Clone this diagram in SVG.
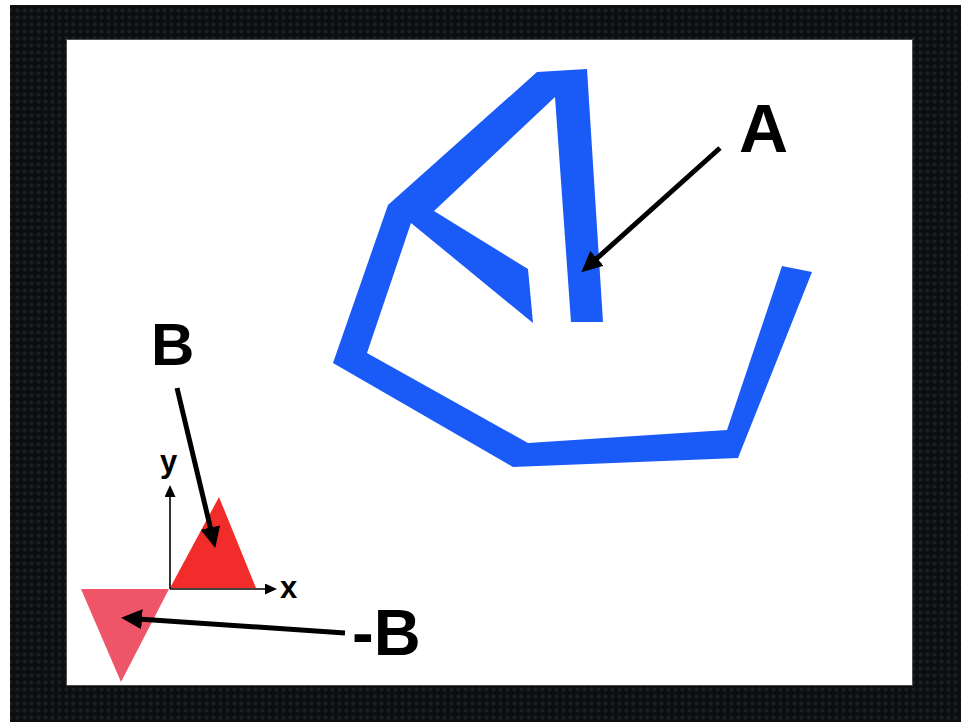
<svg xmlns="http://www.w3.org/2000/svg" width="961" height="722" viewBox="0 0 961 722">
  <style>
    .lbl { font-family: "Liberation Sans", Arial, sans-serif; font-weight: bold; fill: #000; }
    .arr { stroke: #000; stroke-width: 5; fill: none; }
    .axis { stroke: #000; stroke-width: 1.6; fill: none; }
  </style>
  <defs>
    <pattern id="tex" width="7" height="7" patternUnits="userSpaceOnUse">
      <rect width="7" height="7" fill="#0c0d0f"/>
      <circle cx="3.5" cy="3.5" r="2.2" fill="#1b1c1f"/>
    </pattern>
    <marker id="head" markerUnits="userSpaceOnUse" markerWidth="24" markerHeight="22" refX="4" refY="10" orient="auto">
      <path d="M0,0 L21,10 L0,20 z" fill="#000"/>
    </marker>
    <marker id="headS" markerUnits="userSpaceOnUse" markerWidth="14" markerHeight="12" refX="2" refY="5.5" orient="auto">
      <path d="M0,0 L12,5.5 L0,11 z" fill="#000"/>
    </marker>
  </defs>

  <rect x="0" y="0" width="961" height="722" fill="#ffffff"/>
  <rect x="10" y="5" width="951" height="717" fill="url(#tex)"/>
  <rect x="66" y="39" width="847" height="647" fill="#8a8a8a" opacity="0.5"/>
  <rect x="67" y="40" width="845" height="645" fill="#ffffff"/>

  <g id="shapeA">
    <polygon fill="#1a5af6" points="603,322 587,69 537,72 388,205 333,363 513,467 738,458 812,272 782,266 727,430 528,443 367,353 411,223 533,323 528,269 434,211 555,97 571,322"/>
  </g>

  <g id="triangleB">
    <polygon fill="#f22b2b" points="170,588 219,497 256,588"/>
  </g>

  <g id="triangleNegB">
    <polygon fill="#ef5569" points="81,589 169,589 121,682"/>
  </g>

  <g id="axes">
    <line class="axis" x1="170" y1="589" x2="267" y2="589" marker-end="url(#headS)"/>
    <line class="axis" x1="170" y1="589" x2="170" y2="495" marker-end="url(#headS)"/>
    <text class="lbl" x="160" y="472" font-size="31">y</text>
    <text class="lbl" x="280" y="598" font-size="31">x</text>
  </g>

  <g id="labelA">
    <text class="lbl" x="739" y="152" font-size="68">A</text>
  </g>
  <g id="labelB">
    <text class="lbl" x="151" y="365" font-size="60">B</text>
  </g>
  <g id="labelNegB">
    <text class="lbl" x="352" y="655" font-size="65">-B</text>
  </g>

  <g id="connectors">
    <line class="arr" x1="720" y1="148" x2="594" y2="261" marker-end="url(#head)"/>
    <line class="arr" x1="177" y1="388" x2="211.3" y2="531.4" marker-end="url(#head)"/>
    <line class="arr" x1="345" y1="633" x2="138" y2="619" marker-end="url(#head)"/>
  </g>
</svg>
